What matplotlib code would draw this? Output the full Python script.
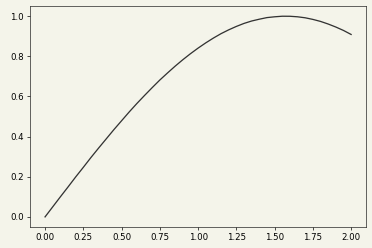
import matplotlib

matplotlib.use("Agg")

import matplotlib.pyplot as plt

# values
x_values = [0.0, 0.05, 0.1, 0.15, 0.2, 0.25, 0.3, 0.35, 0.4, 0.45, 0.5,
            0.55, 0.6, 0.65, 0.7, 0.75, 0.8, 0.85, 0.9, 0.95, 1.0,
            1.05, 1.1, 1.15, 1.2, 1.25, 1.3, 1.35, 1.4, 1.45, 1.5,
            1.55, 1.6, 1.65, 1.7, 1.75, 1.8, 1.85, 1.9, 1.95, 2.0]
y_values = [0.0, 0.050, 0.100, 0.149, 0.199, 0.247, 0.296, 0.343, 0.389, 0.435, 0.479,
            0.523, 0.565, 0.605, 0.644, 0.682, 0.717, 0.751, 0.783, 0.813, 0.841,
            0.867, 0.891, 0.913, 0.932, 0.949, 0.964, 0.976, 0.985, 0.993, 0.997,
            0.9998, 0.9996, 0.997, 0.992, 0.984, 0.974, 0.961, 0.946, 0.929, 0.909]

bg = "#f4f4ea"
fig, ax = plt.subplots(figsize=(6, 4), dpi=62)
fig.patch.set_facecolor(bg)
ax.set_facecolor(bg)
ax.plot(x_values, y_values, color="#333333", linewidth=1.5)
for side in ax.spines.values():
    side.set_color("#222222")
fig.subplots_adjust(left=0.08, right=0.985, bottom=0.085, top=0.975)
fig.savefig("out.png", dpi=62, facecolor=bg)
